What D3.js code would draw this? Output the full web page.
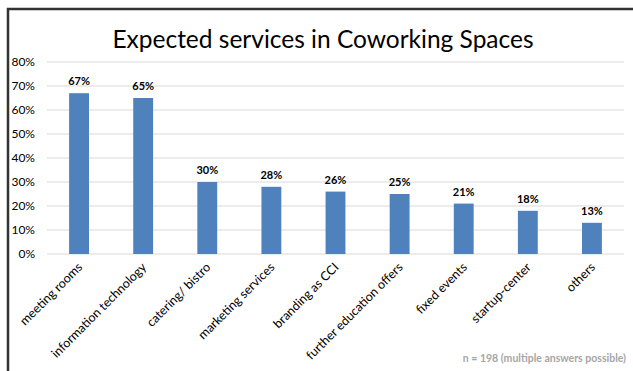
<!DOCTYPE html>
<html>
<head>
<meta charset="utf-8">
<script src="https://cdn.jsdelivr.net/npm/d3@7"></script>
<style>
  body { margin: 0; background: #fff; }
  text { font-family: Lato, "Open Sans", sans-serif; }
</style>
</head>
<body>
<div class="chart"></div>
<script>
// Data
var categories = ["meeting rooms", "information technology", "catering/ bistro", "marketing services",
  "branding as CCI", "further education offers", "fixed events", "startup-center", "others"];
var values = [67, 65, 30, 28, 26, 25, 21, 18, 13];
var yTicks = [0, 10, 20, 30, 40, 50, 60, 70, 80];

var svgWidth = 633;
var svgHeight = 371;
var margin = { top: 62, right: 9, bottom: 117, left: 47 };
var width = svgWidth - margin.left - margin.right;
var height = svgHeight - margin.top - margin.bottom;

var svg = d3.select(".chart").append("svg")
  .attr("width", svgWidth)
  .attr("height", svgHeight);

// frame
svg.append("path")
  .attr("d", "M8,371 V9 H633")
  .attr("fill", "none")
  .attr("stroke", "#333")
  .attr("stroke-width", 2.5);

svg.append("text")
  .attr("x", 323)
  .attr("y", 48)
  .attr("text-anchor", "middle")
  .style("font-size", "24.5px")
  .attr("fill", "#000")
  .text("Expected services in Coworking Spaces");

var chart = svg.append("g")
  .attr("transform", "translate(" + margin.left + "," + margin.top + ")");

var x = d3.scaleBand().domain(categories).range([0, width]).paddingInner(0.69).paddingOuter(0.345);
var y = d3.scaleLinear().domain([0, 80]).range([height, 0]);

// gridlines
chart.selectAll(".grid").data(yTicks).enter().append("line")
  .attr("x1", 0).attr("x2", width)
  .attr("y1", function(d) { return y(d); })
  .attr("y2", function(d) { return y(d); })
  .attr("stroke", "#d9d9d9")
  .attr("stroke-width", 1);

// y axis labels
var leftAxis = d3.axisLeft(y).tickValues(yTicks).tickSize(0).tickPadding(12)
  .tickFormat(function(d) { return d + "%"; });
var yAxis = chart.append("g").call(leftAxis);
yAxis.select(".domain").remove();
yAxis.selectAll("text").style("font-size", "12px").attr("fill", "#000")
  .style("font-family", "Lato, sans-serif");

// bars
chart.selectAll(".bar").data(values).enter().append("rect")
  .attr("x", function(d, i) { return x(categories[i]); })
  .attr("y", function(d) { return y(d); })
  .attr("width", x.bandwidth())
  .attr("height", function(d) { return height - y(d); })
  .attr("fill", "#4f81bd");

// value labels
chart.selectAll(".val").data(values).enter().append("text")
  .attr("x", function(d, i) { return x(categories[i]) + x.bandwidth() / 2; })
  .attr("y", function(d) { return y(d) - 8; })
  .attr("text-anchor", "middle")
  .style("font-size", "11px")
  .style("font-weight", "bold")
  .text(function(d) { return d + "%"; });

// category labels
var bottomAxis = d3.axisBottom(x).tickSize(0).tickPadding(0);
var xAxis = chart.append("g").attr("transform", "translate(0," + height + ")").call(bottomAxis);
xAxis.select(".domain").remove();
xAxis.selectAll("text")
  .attr("text-anchor", "end")
  .attr("dy", 0)
  .attr("transform", "translate(4,14) rotate(-45)")
  .style("font-size", "12.5px")
  .style("font-family", "Lato, sans-serif")
  .attr("fill", "#000");

svg.append("text")
  .attr("x", 626)
  .attr("y", 362)
  .attr("text-anchor", "end")
  .style("font-size", "10.5px")
  .style("font-weight", "bold")
  .attr("fill", "#a6a6a6")
  .text("n = 198 (multiple answers possible)");
</script>
</body>
</html>
